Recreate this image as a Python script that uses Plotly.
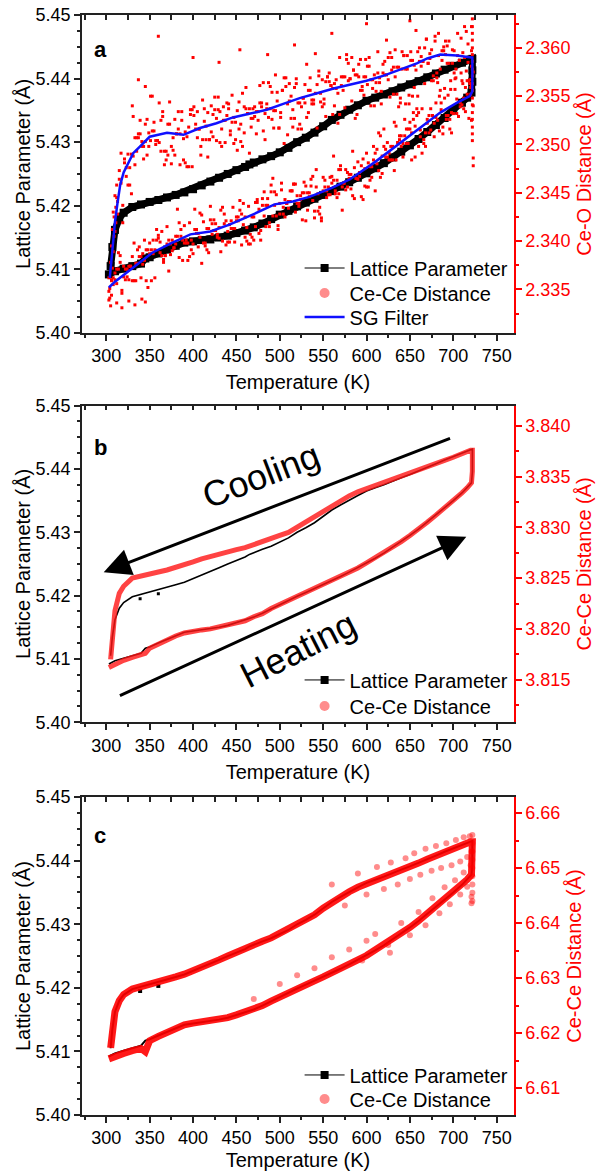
import plotly.graph_objects as go

# ---------------- data ----------------
# Lattice parameter loop (Å): heating branch, hold at max T, cooling branch
lat_heat_T = [303, 310, 320, 330, 340, 345, 350, 360, 370, 380, 390, 400, 410, 420, 430, 440, 450, 460,
              470, 480, 490, 500, 510, 520, 530, 540, 550, 560, 570, 580, 590, 600, 610, 620, 630, 640,
              650, 660, 670, 680, 690, 700, 710, 716, 721]
lat_heat_a = [5.4092, 5.4097, 5.4101, 5.4105, 5.4109, 5.4117, 5.4119, 5.4125, 5.4131, 5.4137, 5.4142,
              5.4144, 5.4146, 5.4147, 5.4150, 5.4153, 5.4157, 5.4161, 5.4166, 5.4172, 5.4179,
              5.4186, 5.4192, 5.4199, 5.4205, 5.4211, 5.4217, 5.4223, 5.4230, 5.4237, 5.4244,
              5.4251, 5.4259, 5.4267, 5.4276, 5.4285, 5.4295, 5.4305, 5.4316, 5.4327, 5.4338,
              5.4350, 5.4362, 5.4370, 5.4378]
hold_T = [722, 722, 722]
lat_hold_a = [5.4395, 5.4413, 5.4431]
lat_cool_T = [720, 710, 700, 690, 680, 670, 660, 650, 640, 630, 620, 610, 600, 590, 580, 570, 560, 550,
              540, 530, 520, 510, 500, 490, 480, 470, 465, 460, 450, 440, 430, 420, 410, 400, 390, 380,
              370, 360, 350, 340, 330, 320, 315, 310, 307, 305]
lat_cool_a = [5.4430, 5.4425, 5.4420, 5.4414, 5.4408, 5.4402, 5.4396, 5.4391, 5.4386, 5.4380, 5.4375,
              5.4370, 5.4365, 5.4358, 5.4351, 5.4343, 5.4335, 5.4325, 5.4315, 5.4307, 5.4300,
              5.4291, 5.4284, 5.4278, 5.4273, 5.4268, 5.4265, 5.4261, 5.4256, 5.4250, 5.4244,
              5.4238, 5.4232, 5.4226, 5.4221, 5.4217, 5.4213, 5.4209, 5.4206, 5.4202, 5.4198,
              5.4189, 5.4180, 5.4162, 5.4135, 5.4105]
lat_out_T = [339, 360]
lat_out_a = [5.4195, 5.4203]

# Panel b: Ce-Ce distance (Å)
ccb_heat = [3.8162, 3.8165, 3.8169, 3.8172, 3.8174, 3.8176, 3.8181, 3.8185, 3.8190, 3.8193, 3.8196,
            3.8198, 3.8199, 3.8200, 3.8202, 3.8203, 3.8206, 3.8208, 3.8212, 3.8215, 3.8220,
            3.8224, 3.8228, 3.8232, 3.8236, 3.8240, 3.8243, 3.8247, 3.8252, 3.8256, 3.8260,
            3.8265, 3.8270, 3.8275, 3.8280, 3.8286, 3.8292, 3.8298, 3.8305, 3.8312, 3.8319,
            3.8326, 3.8334, 3.8339, 3.8344]
ccb_hold = [3.8355, 3.8366, 3.8376]
ccb_cool = [3.8376, 3.8372, 3.8369, 3.8366, 3.8363, 3.8360, 3.8357, 3.8354, 3.8351, 3.8348, 3.8345,
            3.8342, 3.8339, 3.8335, 3.8331, 3.8326, 3.8321, 3.8315, 3.8310, 3.8305, 3.8300,
            3.8295, 3.8292, 3.8289, 3.8286, 3.8283, 3.8281, 3.8280, 3.8278, 3.8276, 3.8274,
            3.8271, 3.8269, 3.8266, 3.8263, 3.8261, 3.8258, 3.8256, 3.8254, 3.8252, 3.8250,
            3.8242, 3.8235, 3.8218, 3.8195, 3.8170]

# Panel c: Ce-Ce distance (Å)
ccc_heat = [6.6153, 6.6158, 6.6163, 6.6168, 6.6172, 6.6166, 6.6186, 6.6194, 6.6202, 6.6209, 6.6215,
            6.6218, 6.6220, 6.6221, 6.6225, 6.6228, 6.6233, 6.6238, 6.6243, 6.6250, 6.6258,
            6.6266, 6.6273, 6.6281, 6.6288, 6.6295, 6.6302, 6.6309, 6.6317, 6.6325, 6.6333,
            6.6341, 6.6351, 6.6360, 6.6370, 6.6381, 6.6392, 6.6404, 6.6417, 6.6429, 6.6442,
            6.6456, 6.6470, 6.6479, 6.6488]
ccc_hold = [6.6508, 6.6528, 6.6548]
ccc_cool = [6.6548, 6.6542, 6.6537, 6.6530, 6.6523, 6.6516, 6.6509, 6.6503, 6.6497, 6.6491, 6.6485,
            6.6479, 6.6473, 6.6465, 6.6457, 6.6448, 6.6438, 6.6427, 6.6415, 6.6406, 6.6398,
            6.6388, 6.6380, 6.6373, 6.6367, 6.6361, 6.6358, 6.6353, 6.6347, 6.6340, 6.6333,
            6.6326, 6.6320, 6.6313, 6.6307, 6.6302, 6.6298, 6.6293, 6.6289, 6.6285, 6.6280,
            6.6270, 6.6259, 6.6239, 6.6207, 6.6173]
ccc_scatter = [(560, 6.6470), (575, 6.6432), (590, 6.6490), (600, 6.6452), (612, 6.6502), (620, 6.6462),
               (628, 6.6510), (636, 6.6470), (645, 6.6518), (650, 6.6480), (655, 6.6527), (662, 6.6488),
               (668, 6.6535), (675, 6.6495), (680, 6.6540), (686, 6.6500), (692, 6.6545), (698, 6.6505),
               (703, 6.6551), (708, 6.6512), (712, 6.6556), (716, 6.6520), (719, 6.6558), (721, 6.6530),
               (560, 6.6338), (580, 6.6352), (595, 6.6332), (610, 6.6380), (625, 6.6360), (640, 6.6400),
               (650, 6.6378), (660, 6.6420), (668, 6.6396), (676, 6.6445), (684, 6.6418), (690, 6.6465),
               (696, 6.6434), (702, 6.6478), (708, 6.6452), (712, 6.6492), (716, 6.6466), (720, 6.6505),
               (520, 6.6305), (540, 6.6318), (600, 6.6368), (470, 6.6262), (500, 6.6289), (627, 6.6346),
               (722, 6.6440), (722, 6.6455), (722, 6.6470), (722, 6.6485), (722, 6.6500), (722, 6.6515),
               (722, 6.6530), (722, 6.6545), (722, 6.6560), (721, 6.6436), (721, 6.6448)]

# Panel a: Ce-O distance (Å) scatter.  Heating points (two readings per temperature)
ceo_heat_T = [304, 306, 308, 310, 312, 314, 316, 318, 320, 322, 324, 326, 328, 330, 332, 334, 336, 338,
              340, 342, 344, 346, 348, 350, 352, 354, 356, 358, 360, 362, 364, 366, 368, 370, 372, 374,
              376, 378, 380, 382, 384, 386, 388, 390, 392, 394, 396, 398, 400, 402, 404, 406, 408, 410,
              412, 414, 416, 418, 420, 422, 424, 426, 428, 430, 432, 434, 436, 438, 440, 442, 444, 446,
              448, 450, 452, 454, 456, 458, 460, 462, 464, 466, 468, 470, 472, 474, 476, 478, 480, 482,
              484, 486, 488, 490, 492, 494, 496, 498, 500, 502, 504, 506, 508, 510, 512, 514, 516, 518,
              520, 522, 524, 526, 528, 530, 532, 534, 536, 538, 540, 542, 544, 546, 548, 550, 552, 554,
              556, 558, 560, 562, 564, 566, 568, 570, 572, 574, 576, 578, 580, 582, 584, 586, 588, 590,
              592, 594, 596, 598, 600, 602, 604, 606, 608, 610, 612, 614, 616, 618, 620, 622, 624, 626,
              628, 630, 632, 634, 636, 638, 640, 642, 644, 646, 648, 650, 652, 654, 656, 658, 660, 662,
              664, 666, 668, 670, 672, 674, 676, 678, 680, 682, 684, 686, 688, 690, 692, 694, 696, 698,
              700, 702, 704, 706, 708, 710, 712, 714, 716, 718, 720]
ceo_heat_v1 = [2.3341, 2.3344, 2.3362,
               2.3367, 2.3356, 2.3388, 2.3385, 2.3346, 2.3374, 2.3371, 2.3363, 2.3360, 2.3374,
               2.3359, 2.3398, 2.3359, 2.3377, 2.3384, 2.3384, 2.3376, 2.3401, 2.3391, 2.3391,
               2.3398, 2.3359, 2.3401, 2.3362, 2.3412, 2.3406, 2.3388, 2.3410, 2.3378, 2.3385,
               2.3397, 2.3401, 2.3386, 2.3401, 2.3393, 2.3397, 2.3433, 2.3419, 2.3405, 2.3380,
               2.3416, 2.3398, 2.3398, 2.3384, 2.3401, 2.3397, 2.3433, 2.3412, 2.3394, 2.3404,
               2.3427, 2.3398, 2.3395, 2.3413, 2.3388, 2.3422, 2.3418, 2.3411, 2.3418, 2.3407,
               2.3403, 2.3432, 2.3400, 2.3428, 2.3396, 2.3399, 2.3417, 2.3413, 2.3435, 2.3399,
               2.3421, 2.3425, 2.3432, 2.3396, 2.3417, 2.3425, 2.3400, 2.3436, 2.3397, 2.3425,
               2.3401, 2.3440, 2.3443, 2.3408, 2.3401, 2.3437, 2.3451, 2.3437, 2.3437, 2.3415,
               2.3451, 2.3465, 2.3437, 2.3448, 2.3416, 2.3439, 2.3460, 2.3435, 2.3443, 2.3439,
               2.3441, 2.3452, 2.3452, 2.3459, 2.3430, 2.3439, 2.3436, 2.3447, 2.3450, 2.3450,
               2.3457, 2.3432, 2.3450, 2.3464, 2.3467, 2.3431, 2.3456, 2.3449, 2.3428, 2.3421,
               2.3452, 2.3456, 2.3452, 2.3456, 2.3466, 2.3467, 2.3463, 2.3449, 2.3445, 2.3449,
               2.3478, 2.3432, 2.3460, 2.3453, 2.3456, 2.3469, 2.3469, 2.3447, 2.3476, 2.3465,
               2.3464, 2.3467, 2.3446, 2.3485, 2.3457, 2.3456, 2.3481, 2.3477, 2.3477, 2.3498,
               2.3452, 2.3495, 2.3473, 2.3466, 2.3488, 2.3516, 2.3487, 2.3502, 2.3491, 2.3484,
               2.3498, 2.3473, 2.3519, 2.3502, 2.3505, 2.3498, 2.3487, 2.3509, 2.3501, 2.3501,
               2.3516, 2.3512, 2.3533, 2.3519, 2.3530, 2.3498, 2.3508, 2.3491, 2.3501, 2.3498,
               2.3522, 2.3512, 2.3537, 2.3530, 2.3508, 2.3543, 2.3525, 2.3514, 2.3543, 2.3518,
               2.3558, 2.3526, 2.3551, 2.3526, 2.3512, 2.3532, 2.3557, 2.3532, 2.3529, 2.3543,
               2.3541, 2.3548, 2.3559, 2.3566, 2.3566, 2.3552]
ceo_heat_v2 = [2.3351, 2.3359, 2.3355,
               2.3360, 2.3371, 2.3371, 2.3378, 2.3349, 2.3363, 2.3360, 2.3371, 2.3374, 2.3374,
               2.3384, 2.3359, 2.3377, 2.3391, 2.3394, 2.3362, 2.3387, 2.3380, 2.3359, 2.3352,
               2.3387, 2.3391, 2.3387, 2.3391, 2.3401, 2.3403, 2.3399, 2.3385, 2.3381, 2.3385,
               2.3415, 2.3369, 2.3397, 2.3390, 2.3393, 2.3405, 2.3405, 2.3383, 2.3412, 2.3401,
               2.3398, 2.3401, 2.3380, 2.3419, 2.3391, 2.3387, 2.3412, 2.3408, 2.3408, 2.3429,
               2.3377, 2.3420, 2.3398, 2.3391, 2.3413, 2.3436, 2.3407, 2.3422, 2.3411, 2.3404,
               2.3414, 2.3389, 2.3435, 2.3418, 2.3421, 2.3410, 2.3399, 2.3421, 2.3413, 2.3413,
               2.3425, 2.3421, 2.3442, 2.3428, 2.3439, 2.3404, 2.3414, 2.3397, 2.3407, 2.3404,
               2.3425, 2.3415, 2.3440, 2.3433, 2.3411, 2.3444, 2.3426, 2.3415, 2.3444, 2.3419,
               2.3458, 2.3426, 2.3451, 2.3426, 2.3412, 2.3428, 2.3453, 2.3428, 2.3425, 2.3439,
               2.3434, 2.3441, 2.3452, 2.3459, 2.3459, 2.3447, 2.3439, 2.3443, 2.3422, 2.3461,
               2.3421, 2.3450, 2.3446, 2.3457, 2.3442, 2.3424, 2.3474, 2.3431, 2.3435, 2.3424,
               2.3466, 2.3463, 2.3445, 2.3448, 2.3448, 2.3460, 2.3488, 2.3452, 2.3463, 2.3474,
               2.3474, 2.3456, 2.3460, 2.3474, 2.3471, 2.3465, 2.3454, 2.3493, 2.3444, 2.3465,
               2.3482, 2.3471, 2.3478, 2.3443, 2.3475, 2.3491, 2.3456, 2.3463, 2.3466, 2.3484,
               2.3491, 2.3480, 2.3512, 2.3509, 2.3470, 2.3498, 2.3495, 2.3487, 2.3484, 2.3498,
               2.3484, 2.3523, 2.3484, 2.3502, 2.3509, 2.3509, 2.3501, 2.3526, 2.3516, 2.3516,
               2.3523, 2.3484, 2.3526, 2.3487, 2.3537, 2.3533, 2.3515, 2.3537, 2.3505, 2.3512,
               2.3526, 2.3530, 2.3515, 2.3530, 2.3522, 2.3528, 2.3564, 2.3550, 2.3536, 2.3511,
               2.3548, 2.3530, 2.3530, 2.3516, 2.3533, 2.3532, 2.3568, 2.3547, 2.3529, 2.3539,
               2.3566, 2.3537, 2.3534, 2.3552, 2.3527, 2.3559]

# Cooling points (two readings per temperature)
ceo_cool_T = [313, 315, 317, 319, 321, 323, 325, 327, 329, 331, 333, 335, 337, 339, 341, 343, 345, 347,
              349, 351, 353, 355, 357, 359, 361, 363, 365, 367, 369, 371, 373, 375, 377, 379, 381, 383,
              385, 387, 389, 391, 393, 395, 397, 399, 401, 403, 405, 407, 409, 411, 413, 415, 417, 419,
              421, 423, 425, 427, 429, 431, 433, 435, 437, 439, 441, 443, 445, 447, 449, 451, 453, 455,
              457, 459, 461, 463, 465, 467, 469, 471, 473, 475, 477, 479, 481, 483, 485, 487, 489, 491,
              493, 495, 497, 499, 501, 503, 505, 507, 509, 511, 513, 515, 517, 519, 521, 523, 525, 527,
              529, 531, 533, 535, 537, 539, 541, 543, 545, 547, 549, 551, 553, 555, 557, 559, 561, 563,
              565, 567, 569, 571, 573, 575, 577, 579, 581, 583, 585, 587, 589, 591, 593, 595, 597, 599,
              601, 603, 605, 607, 609, 611, 613, 615, 617, 619, 621, 623, 625, 627, 629, 631, 633, 635,
              637, 639, 641, 643, 645, 647, 649, 651, 653, 655, 657, 659, 661, 663, 665, 667, 669, 671,
              673, 675, 677, 679, 681, 683, 685, 687, 689, 691, 693, 695, 697, 699, 701, 703, 705, 707,
              709, 711, 713, 715, 717, 719, 721]
ceo_cool_v1 = [2.3428, 2.3473, 2.3460, 2.3419,
               2.3485, 2.3476, 2.3490, 2.3476, 2.3449, 2.3529, 2.3479, 2.3493, 2.3507, 2.3511,
               2.3503, 2.3498, 2.3521, 2.3526, 2.3512, 2.3504, 2.3550, 2.3514, 2.3504, 2.3504,
               2.3502, 2.3525, 2.3529, 2.3479, 2.3493, 2.3489, 2.3544, 2.3480, 2.3507, 2.3526,
               2.3511, 2.3516, 2.3479, 2.3534, 2.3484, 2.3513, 2.3508, 2.3518, 2.3536, 2.3536,
               2.3530, 2.3516, 2.3507, 2.3516, 2.3498, 2.3505, 2.3537, 2.3505, 2.3487, 2.3505,
               2.3540, 2.3508, 2.3549, 2.3504, 2.3536, 2.3502, 2.3516, 2.3539, 2.3502, 2.3530,
               2.3542, 2.3510, 2.3523, 2.3501, 2.3505, 2.3494, 2.3516, 2.3503, 2.3553, 2.3539,
               2.3559, 2.3532, 2.3537, 2.3527, 2.3527, 2.3539, 2.3511, 2.3525, 2.3543, 2.3539,
               2.3564, 2.3505, 2.3537, 2.3528, 2.3537, 2.3554, 2.3535, 2.3572, 2.3545, 2.3517,
               2.3528, 2.3556, 2.3501, 2.3569, 2.3542, 2.3545, 2.3550, 2.3518, 2.3527, 2.3563,
               2.3516, 2.3543, 2.3539, 2.3548, 2.3562, 2.3528, 2.3556, 2.3556, 2.3546, 2.3542,
               2.3553, 2.3517, 2.3576, 2.3544, 2.3539, 2.3547, 2.3565, 2.3570, 2.3574, 2.3561,
               2.3558, 2.3563, 2.3558, 2.3522, 2.3531, 2.3561, 2.3570, 2.3538, 2.3588, 2.3584,
               2.3568, 2.3545, 2.3577, 2.3572, 2.3572, 2.3570, 2.3556, 2.3560, 2.3551, 2.3588,
               2.3581, 2.3581, 2.3567, 2.3567, 2.3572, 2.3564, 2.3596, 2.3569, 2.3542, 2.3583,
               2.3572, 2.3608, 2.3590, 2.3549, 2.3577, 2.3580, 2.3598, 2.3580, 2.3539, 2.3548,
               2.3596, 2.3592, 2.3542, 2.3578, 2.3542, 2.3596, 2.3550, 2.3582, 2.3577, 2.3550,
               2.3600, 2.3591, 2.3586, 2.3563, 2.3609, 2.3584, 2.3589, 2.3566, 2.3566, 2.3607,
               2.3574, 2.3615, 2.3578, 2.3587, 2.3601, 2.3593, 2.3602, 2.3607, 2.3566, 2.3598,
               2.3574, 2.3578, 2.3615, 2.3587, 2.3574, 2.3595, 2.3622, 2.3576, 2.3585, 2.3563,
               2.3581]
ceo_cool_v2 = [2.3441, 2.3464, 2.3491, 2.3437,
               2.3481, 2.3467, 2.3458, 2.3458, 2.3490, 2.3488, 2.3507, 2.3507, 2.3511, 2.3525,
               2.3498, 2.3485, 2.3503, 2.3489, 2.3498, 2.3550, 2.3514, 2.3523, 2.3500, 2.3504,
               2.3543, 2.3493, 2.3534, 2.3493, 2.3484, 2.3521, 2.3521, 2.3498, 2.3494, 2.3489,
               2.3511, 2.3534, 2.3511, 2.3525, 2.3506, 2.3481, 2.3477, 2.3477, 2.3531, 2.3477,
               2.3539, 2.3521, 2.3534, 2.3516, 2.3489, 2.3546, 2.3524, 2.3519, 2.3533, 2.3505,
               2.3513, 2.3531, 2.3536, 2.3527, 2.3549, 2.3534, 2.3498, 2.3525, 2.3525, 2.3543,
               2.3537, 2.3514, 2.3551, 2.3528, 2.3523, 2.3535, 2.3544, 2.3521, 2.3498, 2.3512,
               2.3537, 2.3532, 2.3491, 2.3518, 2.3537, 2.3529, 2.3534, 2.3534, 2.3561, 2.3543,
               2.3514, 2.3532, 2.3542, 2.3564, 2.3560, 2.3526, 2.3517, 2.3535, 2.3554, 2.3517,
               2.3533, 2.3556, 2.3569, 2.3560, 2.3510, 2.3563, 2.3527, 2.3536, 2.3559, 2.3568,
               2.3543, 2.3521, 2.3516, 2.3548, 2.3543, 2.3583, 2.3533, 2.3569, 2.3542, 2.3546,
               2.3594, 2.3562, 2.3571, 2.3553, 2.3567, 2.3542, 2.3529, 2.3570, 2.3565, 2.3561,
               2.3531, 2.3540, 2.3567, 2.3553, 2.3590, 2.3570, 2.3556, 2.3570, 2.3593, 2.3566,
               2.3568, 2.3590, 2.3577, 2.3527, 2.3531, 2.3583, 2.3588, 2.3556, 2.3570, 2.3570,
               2.3562, 2.3590, 2.3540, 2.3558, 2.3540, 2.3555, 2.3574, 2.3564, 2.3555, 2.3574,
               2.3586, 2.3572, 2.3567, 2.3595, 2.3590, 2.3552, 2.3570, 2.3552, 2.3580, 2.3543,
               2.3578, 2.3592, 2.3578, 2.3592, 2.3551, 2.3587, 2.3587, 2.3559, 2.3618, 2.3596,
               2.3586, 2.3581, 2.3586, 2.3600, 2.3609, 2.3584, 2.3594, 2.3598, 2.3571, 2.3612,
               2.3569, 2.3592, 2.3556, 2.3597, 2.3597, 2.3607, 2.3584, 2.3584, 2.3557, 2.3584,
               2.3597, 2.3569, 2.3592, 2.3587, 2.3610, 2.3563, 2.3590, 2.3617, 2.3604, 2.3567,
               2.3622]
# steep low-T end, low outliers, hold at max T, high outliers
ceo_extra = [(303, 2.3348), (303, 2.3362), (303, 2.3339), (305, 2.3333), (312, 2.3336), (318, 2.3331),
             (326, 2.3338), (333, 2.3334), (341, 2.3340), (345, 2.3337),
             (312, 2.3458), (311, 2.3419), (310, 2.3447), (309, 2.3405), (308, 2.3430), (308, 2.3389),
             (307, 2.3412), (307, 2.3372), (306, 2.3395), (306, 2.3360), (305, 2.3378), (311, 2.3435),
             (309, 2.3425), (310, 2.3410), (312, 2.3445),
             (722, 2.3630), (722, 2.3622), (722, 2.3615), (722, 2.3608), (722, 2.3600), (722, 2.3593),
             (722, 2.3586), (722, 2.3578), (722, 2.3571), (722, 2.3563), (722, 2.3556), (722, 2.3548),
             (722, 2.3541), (722, 2.3533), (722, 2.3526), (722, 2.3518), (722, 2.3511), (722, 2.3504),
             (721, 2.3597), (721, 2.3560), (721, 2.3525), (723, 2.3575), (723, 2.3540), (723, 2.3478),
             (723, 2.3486),
             (360, 2.3612), (337, 2.3567), (454, 2.3598), (486, 2.3593), (517, 2.3603), (330, 2.3540),
             (345, 2.3560), (600, 2.3625), (650, 2.3628), (560, 2.3615), (400, 2.3590), (430, 2.3585)]

# SG filter of Ce-O distance (Å)
sg_T = [303, 310, 330, 353, 375, 397, 420, 442, 470, 494, 515, 535, 560, 581, 610, 639, 662, 685, 704, 719,
        722, 722, 722, 721, 704, 685, 670, 658, 640, 619, 600, 581, 562, 543, 523, 504, 485, 466, 446, 427,
        408, 389, 380, 370, 360, 350, 339, 331, 320, 316, 313, 310, 308, 306, 304]
sg_v = [2.3352, 2.3358, 2.3372, 2.3388, 2.3398, 2.3407, 2.3410, 2.3417, 2.3428, 2.3438,
        2.3441, 2.3446, 2.3455, 2.3464, 2.3482, 2.3502, 2.3518, 2.3533, 2.3543, 2.3550,
        2.3555, 2.3572, 2.3590, 2.3590, 2.3592, 2.3593, 2.3589, 2.3584, 2.3578, 2.3571,
        2.3566, 2.3562, 2.3558, 2.3553, 2.3548, 2.3542, 2.3536, 2.3532, 2.3528, 2.3522,
        2.3517, 2.3510, 2.3511, 2.3512, 2.3510, 2.3508, 2.3498, 2.3491, 2.3471, 2.3458,
        2.3440, 2.3420, 2.3400, 2.3380, 2.3362]

# Axis ranges
x_range = [272, 770]
lat_range = [5.40, 5.45]
right_a_range = [2.3305, 2.3634]
right_b_range = [3.8108, 3.8420]
right_c_range = [6.6051, 6.6629]

# ---------------- assemble ----------------
loop_T = lat_heat_T + hold_T + lat_cool_T
loop_a = lat_heat_a + lat_hold_a + lat_cool_a
ccb_all = ccb_heat + ccb_hold + ccb_cool
ccc_all = ccc_heat + ccc_hold + ccc_cool
ceo_T = (ceo_heat_T + ceo_heat_T + ceo_cool_T + ceo_cool_T + [p[0] for p in ceo_extra])
ceo_v = (ceo_heat_v1 + ceo_heat_v2 + ceo_cool_v1 + ceo_cool_v2 + [p[1] for p in ceo_extra])
cs_T = [p[0] for p in ccc_scatter]
cs_v = [p[1] for p in ccc_scatter]

FONT = "Liberation Sans"
RED = "#FF0000"
BLUE = "#1010FF"
PINK = "rgba(255,0,0,0.45)"

fig = go.Figure()

# ---- panel a ----
fig.add_trace(go.Scatter(x=loop_T, y=loop_a, xaxis="x", yaxis="y", mode="lines+markers",
                         line=dict(color="black", width=7),
                         marker=dict(symbol="square", size=8, color="black"), showlegend=False))
fig.add_trace(go.Scatter(x=ceo_T, y=ceo_v, xaxis="x", yaxis="y2", mode="markers",
                         marker=dict(symbol="square", size=3, color=RED, line=dict(width=0)),
                         showlegend=False))
fig.add_trace(go.Scatter(x=sg_T, y=sg_v, xaxis="x", yaxis="y2", mode="lines",
                         line=dict(color=BLUE, width=2.5), showlegend=False))

# ---- panel b ----
fig.add_trace(go.Scatter(x=loop_T, y=ccb_all, xaxis="x2", yaxis="y4", mode="lines",
                         line=dict(color="rgba(255,20,20,0.8)", width=5), showlegend=False))
fig.add_trace(go.Scatter(x=loop_T, y=loop_a, xaxis="x2", yaxis="y3", mode="lines",
                         line=dict(color="black", width=1.6), showlegend=False))
fig.add_trace(go.Scatter(x=lat_out_T, y=lat_out_a, xaxis="x2", yaxis="y3", mode="markers",
                         marker=dict(symbol="square", size=3, color="black"), showlegend=False))

# ---- panel c ----
fig.add_trace(go.Scatter(x=loop_T, y=loop_a, xaxis="x3", yaxis="y5", mode="lines",
                         line=dict(color="black", width=2), showlegend=False))
fig.add_trace(go.Scatter(x=lat_out_T, y=lat_out_a, xaxis="x3", yaxis="y5", mode="markers",
                         marker=dict(symbol="square", size=4, color="black"), showlegend=False))
fig.add_trace(go.Scatter(x=cs_T, y=cs_v, xaxis="x3", yaxis="y6", mode="markers",
                         marker=dict(symbol="circle", size=6, color=PINK, line=dict(width=0)),
                         showlegend=False))
fig.add_trace(go.Scatter(x=loop_T, y=ccc_all, xaxis="x3", yaxis="y6", mode="lines",
                         line=dict(color="rgba(255,0,0,0.9)", width=7), showlegend=False))

# ---- invisible traces for the top (mirror) axes ----
for xa, ya in (("x4", "y"), ("x5", "y3"), ("x6", "y5")):
    fig.add_trace(go.Scatter(x=[None], y=[None], xaxis=xa, yaxis=ya, mode="markers",
                             showlegend=False, hoverinfo="skip"))


# ---- legend entries (one single-item legend per row) ----
def lp_entry(xa, ya, leg):
    fig.add_trace(go.Scatter(x=[None], y=[None], xaxis=xa, yaxis=ya, mode="lines+markers",
                             line=dict(color="black", width=1),
                             marker=dict(symbol="square", size=8, color="black"),
                             name="Lattice Parameter", legend=leg))


def cc_entry(xa, ya, leg):
    fig.add_trace(go.Scatter(x=[None], y=[None], xaxis=xa, yaxis=ya, mode="markers",
                             marker=dict(symbol="circle", size=10, color=PINK, line=dict(width=0)),
                             name="Ce-Ce Distance", legend=leg))


def sg_entry(xa, ya, leg):
    fig.add_trace(go.Scatter(x=[None], y=[None], xaxis=xa, yaxis=ya, mode="lines",
                             line=dict(color=BLUE, width=2.5), name="SG Filter", legend=leg))


lp_entry("x", "y", "legend")
cc_entry("x", "y", "legend2")
sg_entry("x", "y", "legend3")
lp_entry("x2", "y3", "legend4")
cc_entry("x2", "y3", "legend5")
lp_entry("x3", "y5", "legend6")
cc_entry("x3", "y5", "legend7")

# ---------------- axes ----------------
tickfont = dict(family=FONT, size=18, color="black")
titlefont = dict(family=FONT, size=20, color="black")
AXC = "#222222"


def xbottom(anchor):
    return dict(range=x_range, anchor=anchor, domain=[0, 1], showline=True, linecolor=AXC,
                linewidth=1.5, ticks="outside", ticklen=6, tickwidth=1.5, tickcolor=AXC,
                tick0=0, dtick=50, automargin=False,
                minor=dict(ticks="outside", ticklen=3, tickwidth=1.5, tickcolor=AXC, tick0=0, dtick=25),
                tickfont=tickfont, showgrid=False, zeroline=False,
                title=dict(text="Temperature (K)", font=titlefont, standoff=10))


def xtop(overlay, anchor):
    return dict(range=x_range, overlaying=overlay, anchor=anchor, side="top", showline=True,
                linecolor=AXC, linewidth=1.5, ticks="inside", ticklen=5, tickwidth=1.5,
                tickcolor=AXC, tick0=0, dtick=50, automargin=False,
                minor=dict(ticks="inside", ticklen=5, tickwidth=1.5, tickcolor=AXC, tick0=0, dtick=25),
                showticklabels=False, showgrid=False, zeroline=False)


def yleft(dom, anchor):
    return dict(domain=dom, anchor=anchor, range=lat_range, tick0=5.40, dtick=0.01, tickformat=".2f",
                showline=True, linecolor=AXC, linewidth=1.5, ticks="outside", ticklen=6,
                tickwidth=1.5, tickcolor=AXC, automargin=False,
                minor=dict(ticks="outside", ticklen=3, tickwidth=1.5, tickcolor=AXC, dtick=0.0025),
                tickfont=tickfont, showgrid=False, zeroline=False,
                title=dict(text="Lattice Parameter (Å)", font=titlefont, standoff=0))


def yright(overlay, anchor, rng, t0, dt, fmt, title):
    return dict(overlaying=overlay, anchor=anchor, side="right", range=rng, tick0=t0, dtick=dt,
                tickformat=fmt, showline=True, linecolor=RED, linewidth=1.5, ticks="outside",
                ticklen=6, tickwidth=1.5, tickcolor=RED, automargin=False,
                minor=dict(ticks="outside", ticklen=3, tickwidth=1.5, tickcolor=RED, dtick=dt / 2),
                tickfont=dict(family=FONT, size=18, color=RED), showgrid=False, zeroline=False,
                title=dict(text=title, font=dict(family=FONT, size=20, color=RED), standoff=8))


dom_a = [0.711, 1.0]
dom_b = [0.357, 0.645]
dom_c = [0.0, 0.289]


def leg(y):
    return dict(x=0.5037, y=y, xanchor="left", yanchor="middle", bgcolor="rgba(0,0,0,0)",
                font=dict(family=FONT, size=20, color="black"), itemwidth=40,
                tracegroupgap=0, borderwidth=0)


fig.update_layout(
    template="none",
    width=596, height=1171,
    margin=dict(l=82, r=82, t=15, b=56, autoexpand=False),
    paper_bgcolor="white", plot_bgcolor="white",
    font=dict(family=FONT, color="black"),
    xaxis=xbottom("y"), xaxis2=xbottom("y3"), xaxis3=xbottom("y5"),
    xaxis4=xtop("x", "y"), xaxis5=xtop("x2", "y3"), xaxis6=xtop("x3", "y5"),
    yaxis=yleft(dom_a, "x"),
    yaxis2=yright("y", "x", right_a_range, 2.335, 0.005, ".3f", "Ce-O Distance (Å)"),
    yaxis3=yleft(dom_b, "x2"),
    yaxis4=yright("y3", "x2", right_b_range, 3.815, 0.005, ".3f", "Ce-Ce Distance (Å)"),
    yaxis5=yleft(dom_c, "x3"),
    yaxis6=yright("y5", "x3", right_c_range, 6.61, 0.01, ".2f", "Ce-Ce Distance (Å)"),
    legend=leg(0.7700), legend2=leg(0.7473), legend3=leg(0.7255),
    legend4=leg(0.3955), legend5=leg(0.3718),
    legend6=leg(0.0364), legend7=leg(0.0145),
    showlegend=True,
)

# panel letters
for txt, yy in (("a", 0.969), ("b", 0.6064), ("c", 0.2545)):
    fig.add_annotation(x=0.042, y=yy, xref="paper", yref="paper", text=f"<b>{txt}</b>",
                       xanchor="center", yanchor="middle",
                       showarrow=False, font=dict(family=FONT, size=22, color="black"))

# Cooling / Heating arrows and labels (panel b)
fig.add_annotation(x=297, y=5.4237, ax=698, ay=5.4449, xref="x2", yref="y3", axref="x2", ayref="y3",
                   text="", showarrow=True, arrowhead=2, arrowsize=1.8, arrowwidth=3, arrowcolor="black")
fig.add_annotation(x=715, y=5.4293, ax=314, ay=5.4041, xref="x2", yref="y3", axref="x2", ayref="y3",
                   text="", showarrow=True, arrowhead=2, arrowsize=1.8, arrowwidth=3, arrowcolor="black")
fig.add_annotation(x=478, y=5.4389, xref="x2", yref="y3", text="Cooling", showarrow=False,
                   textangle=-21, font=dict(family=FONT, size=36, color="black"))
fig.add_annotation(x=521, y=5.4115, xref="x2", yref="y3", text="Heating", showarrow=False,
                   textangle=-27, font=dict(family=FONT, size=36, color="black"))

# remove the page's default 8px body margin so the figure sits at the window origin
fig.write_html("out.html", config={"displayModeBar": False},
               post_script="document.body.style.margin='0px';")
